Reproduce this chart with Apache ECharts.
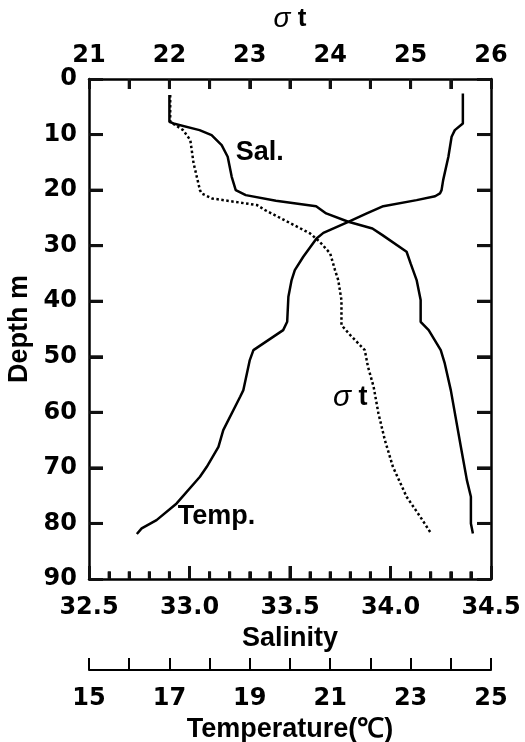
<!DOCTYPE html>
<html><head><meta charset="utf-8">
<script src="https://cdn.jsdelivr.net/npm/echarts@6/dist/echarts.min.js"></script>
<style>html,body{margin:0;padding:0;background:#fff;}#c{width:525px;height:742px;}</style>
</head><body><div id="c"></div>
<script>
// Salinity profile
const salDepth = [2.9, 7.7, 8.0, 9.2, 10.1, 11.9, 14.0, 17.6, 20.0, 20.9, 21.9, 22.9, 24.2, 25.7, 26.9, 28.1, 31.1, 33.2, 36.2, 39.8, 43.7, 45.2, 48.8, 51.2, 56.0, 66.2, 72.2, 75.2, 78.8, 80.0, 81.8];
const salValue = [32.90, 32.90, 32.92, 33.05, 33.11, 33.16, 33.19, 33.21, 33.23, 33.28, 33.43, 33.63, 33.68, 33.79, 33.91, 33.96, 34.08, 34.10, 34.13, 34.15, 34.15, 34.19, 34.25, 34.27, 34.30, 34.35, 34.38, 34.40, 34.40, 34.40, 34.41];
// Temperature profile
const tempDepth = [2.6, 8.0, 9.2, 10.4, 14.0, 18.2, 20.0, 20.6, 21.1, 21.8, 22.9, 24.2, 25.7, 27.7, 28.7, 32.0, 34.4, 36.2, 39.2, 43.7, 45.2, 48.8, 50.6, 56.0, 57.2, 63.2, 66.2, 69.8, 71.6, 76.4, 79.4, 80.9, 81.9];
const tempValue = [24.30, 24.30, 24.10, 24.02, 23.94, 23.81, 23.77, 23.73, 23.61, 23.15, 22.32, 21.91, 21.45, 20.83, 20.66, 20.33, 20.12, 20.04, 19.96, 19.93, 19.83, 19.09, 19.00, 18.84, 18.76, 18.34, 18.22, 17.93, 17.76, 17.18, 16.68, 16.31, 16.19];
// Sigma-t profile
const sigmaDepth = [2.9, 7.7, 9.2, 11.0, 15.1, 20.0, 20.6, 21.5, 22.7, 23.6, 27.8, 29.3, 31.4, 34.4, 36.2, 39.8, 44.3, 46.1, 48.8, 51.8, 55.4, 60.2, 65.0, 69.8, 75.2, 78.8, 81.7];
const sigmaValue = [22.01, 22.01, 22.17, 22.26, 22.30, 22.38, 22.40, 22.53, 23.09, 23.19, 23.75, 23.87, 24.00, 24.06, 24.10, 24.14, 24.14, 24.25, 24.43, 24.47, 24.54, 24.60, 24.68, 24.78, 24.95, 25.12, 25.25];

// Tick labels
const salLabels = ['32.5','33.0','33.5','34.0','34.5'];
const tempLabels = ['15','17','19','21','23','25'];

// Tick mark positions (axis values)
const depthTicks = [10, 20, 30, 40, 50, 60, 70, 80];
const sigmaTicks = [21.5, 22, 22.5, 23, 23.5, 24, 24.5, 25, 25.5];
const salMajorTicks = [33.0, 33.5, 34.0];
const salMinorTicks = [32.6, 32.7, 32.8, 32.9, 33.1, 33.2, 33.3, 33.4, 33.6, 33.7, 33.8, 33.9, 34.1, 34.2, 34.3, 34.4];

// In-plot annotations (value on the series' own x axis, depth)
const salNote = ['Sal.', 33.23, 13.3];
const tempNote = ['Temp.', 17.21, 78.7];
const sigmaNote = ['σt', 24.25, 57.4];

const FONT = '"Liberation Sans", Arial, Helvetica, sans-serif';
const TICKFONT = '"DejaVu Sans", Verdana, sans-serif';
const lblStyle = { color: '#000', fontFamily: TICKFONT, fontWeight: 'bold', fontSize: 24 };
const titleStyle = { color: '#000', fontFamily: FONT, fontWeight: 'bold', fontSize: 27 };
const lineW = 2.5;
const TICK_COLOR = '#111';
const TICK_W = 3;
const SAL_MIN = 32.5, SAL_MAX = 34.5, DEPTH_MIN = 0, DEPTH_MAX = 90;

const chart = echarts.init(document.getElementById('c'));
function pairs(v, d) { return v.map((x, i) => [x, d[i]]); }
function aLine(w) { return { show: true, onZero: false, lineStyle: { color: '#000', width: w } }; }
function aTick(len) { return { show: true, inside: true, length: len, lineStyle: { color: TICK_COLOR, width: TICK_W } }; }
function seg(x1, y1, x2, y2) {
  return { type: 'line', shape: { x1: x1, y1: y1, x2: x2, y2: y2 }, style: { stroke: TICK_COLOR, lineWidth: TICK_W } };
}
function noteSeries(note, xIdx, style) {
  return { type: 'custom', xAxisIndex: xIdx, yAxisIndex: 0, clip: false, z: 6,
    data: [[note[1], note[2]]],
    renderItem: (params, api) => {
      const p = api.coord([api.value(0), api.value(1)]);
      return { type: 'text', x: p[0], y: p[1], style: Object.assign({ text: note[0] }, style) };
    } };
}

const option = {
  animation: false,
  grid: { left: 89, right: 34, top: 79, bottom: 163, outerBoundsMode: 'none' },
  xAxis: [
    {
      type: 'value', position: 'top', min: 21, max: 26, interval: 1,
      axisLine: aLine(lineW), axisTick: aTick(10),
      minorTick: { show: true, splitNumber: 2, length: 10, lineStyle: { color: TICK_COLOR, width: TICK_W } },
      axisLabel: Object.assign({ margin: 11 }, lblStyle),
      splitLine: { show: false }, minorSplitLine: { show: false },
      name: '{s|σ}{t| t}', nameLocation: 'middle', nameGap: 46,
      nameTextStyle: { rich: {
        s: { fontFamily: FONT, fontSize: 28, fontStyle: 'italic', color: '#000' },
        t: { fontFamily: FONT, fontSize: 26, fontWeight: 'bold', color: '#000' } } }
    },
    {
      type: 'value', position: 'bottom', min: SAL_MIN, max: SAL_MAX, interval: 0.5,
      axisLine: aLine(lineW), axisTick: aTick(13),
      minorTick: { show: true, splitNumber: 5, length: 7.5, lineStyle: { color: TICK_COLOR, width: TICK_W } },
      axisLabel: Object.assign({ margin: 17, formatter: v => { const s = v.toFixed(1); return salLabels.includes(s) ? s : ''; } }, lblStyle),
      splitLine: { show: false }, minorSplitLine: { show: false },
      name: 'Salinity', nameLocation: 'middle', nameGap: 30, nameTextStyle: titleStyle
    },
    {
      type: 'value', position: 'bottom', offset: 91, min: 15, max: 25, interval: 1,
      axisLine: aLine(2), axisTick: { show: true, inside: true, length: 12, lineStyle: { color: '#000', width: 2 } },
      axisLabel: Object.assign({ margin: 17, formatter: v => tempLabels.includes(String(v)) ? String(v) : '' }, lblStyle),
      splitLine: { show: false },
      name: 'Temperature(℃)', nameLocation: 'middle', nameGap: 33, nameTextStyle: titleStyle
    }
  ],
  yAxis: [
    {
      type: 'value', position: 'left', inverse: true, min: DEPTH_MIN, max: DEPTH_MAX, interval: 10,
      axisLine: aLine(lineW), axisTick: aTick(14),
      axisLabel: Object.assign({ margin: 12 }, lblStyle),
      splitLine: { show: false },
      name: 'Depth m', nameLocation: 'middle', nameGap: 54, nameRotate: 90, nameTextStyle: titleStyle
    },
    {
      type: 'value', position: 'right', inverse: true, min: DEPTH_MIN, max: DEPTH_MAX, interval: 10,
      axisLine: aLine(lineW), axisTick: aTick(14),
      axisLabel: { show: false },
      splitLine: { show: false }
    }
  ],
  series: [
    { name: 'Salinity', type: 'line', xAxisIndex: 1, yAxisIndex: 0,
      data: pairs(salValue, salDepth), showSymbol: false, symbol: 'none',
      lineStyle: { color: '#000', width: lineW } },
    { name: 'Temperature', type: 'line', xAxisIndex: 2, yAxisIndex: 0,
      data: pairs(tempValue, tempDepth), showSymbol: false, symbol: 'none',
      lineStyle: { color: '#000', width: lineW } },
    { name: 'Sigma-t', type: 'line', xAxisIndex: 0, yAxisIndex: 0,
      data: pairs(sigmaValue, sigmaDepth), showSymbol: false, symbol: 'none',
      lineStyle: { color: '#000', width: 2.5, type: 'dotted' } },
    { type: 'custom', xAxisIndex: 1, yAxisIndex: 0, clip: false, z: 5,
      data: depthTicks.map(d => [SAL_MIN, d]),
      renderItem: (params, api) => {
        const d = api.value(1);
        const pl = api.coord([SAL_MIN, d]), pr = api.coord([SAL_MAX, d]);
        return { type: 'group', children: [seg(pl[0], pl[1], pl[0] + 14, pl[1]), seg(pr[0], pr[1], pr[0] - 14, pr[1])] };
      } },
    { type: 'custom', xAxisIndex: 0, yAxisIndex: 0, clip: false, z: 5,
      data: sigmaTicks.map(s => [s, DEPTH_MIN]),
      renderItem: (params, api) => {
        const p = api.coord([api.value(0), DEPTH_MIN]);
        return seg(p[0], p[1], p[0], p[1] + 10);
      } },
    { type: 'custom', xAxisIndex: 1, yAxisIndex: 0, clip: false, z: 5,
      data: salMajorTicks.map(s => [s, DEPTH_MAX, 1]).concat(salMinorTicks.map(s => [s, DEPTH_MAX, 0])),
      renderItem: (params, api) => {
        const p = api.coord([api.value(0), DEPTH_MAX]);
        const len = api.value(2) ? 13 : 7.5;
        return seg(p[0], p[1], p[0], p[1] - len);
      } },
    noteSeries(salNote, 1, { fill: '#000', fontFamily: FONT, fontWeight: 'bold', fontSize: 27, align: 'left', verticalAlign: 'middle' }),
    noteSeries(tempNote, 2, { fill: '#000', fontFamily: FONT, fontWeight: 'bold', fontSize: 27, align: 'left', verticalAlign: 'middle' }),
    { type: 'custom', xAxisIndex: 0, yAxisIndex: 0, clip: false, z: 6,
      data: [[sigmaNote[1], sigmaNote[2]]],
      renderItem: (params, api) => {
        const p = api.coord([api.value(0), api.value(1)]);
        return { type: 'text', x: p[0], y: p[1], style: {
          text: '{s|σ}{t| t}', align: 'center', verticalAlign: 'middle',
          rich: { s: { fontFamily: FONT, fontSize: 30, fontStyle: 'italic', fill: '#000' },
                  t: { fontFamily: FONT, fontSize: 27, fontWeight: 'bold', fill: '#000' } } } };
      } }
  ]
};
chart.setOption(option);
</script>
</body></html>
